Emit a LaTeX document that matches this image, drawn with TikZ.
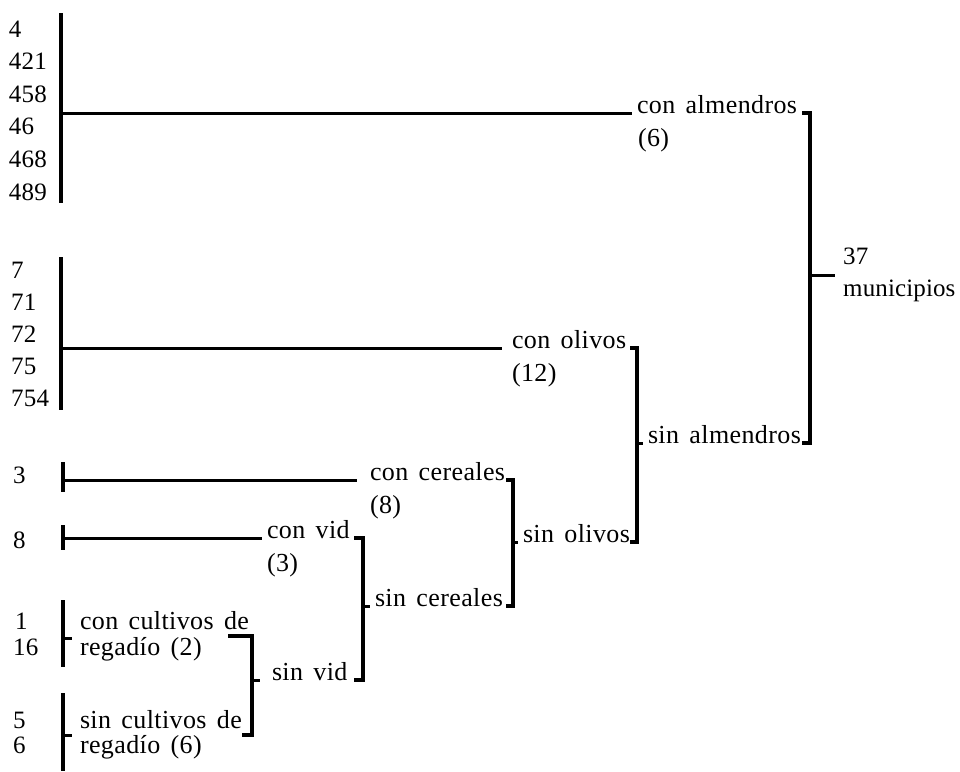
\documentclass[tikz,border=0pt]{standalone}
\usepackage{fontspec}
\setmainfont{Liberation Serif}[LetterSpace=1.5, WordSpace=1.5]
\newfontfamily\munfont{Liberation Serif}[LetterSpace=0.5]
\newfontfamily\numfont{Liberation Serif}[LetterSpace=1]
\usetikzlibrary{calc}
\tikzset{
  lbl/.style={anchor=base west, inner sep=0pt, outer sep=0pt},
  numl/.style={lbl, font=\fontsize{25}{33}\numfont},
  vbar/.style={line width=3.4pt, line join=miter},
  hln/.style={line width=3pt},
}
\begin{document}
\begin{tikzpicture}[x=1pt,y=-1pt,font=\fontsize{26}{33}\selectfont]
\useasboundingbox[fill=white] (0,0) rectangle (960,771);

% ---- leaf numbers
\foreach \t [count=\i] in {4,421,458,46,468,489}
  \node[numl] (a\i) at (9,{37+32.6*(\i-1)}) {\t};
\foreach \t [count=\i] in {7,71,72,75,754}
  \node[numl] (b\i) at (11,{278+32*(\i-1)}) {\t};
\node[numl] (n3) at (13,483) {3};
\node[numl] (n8) at (13,548) {8};
\node[numl] (n1) at (15,629) {1};
\node[numl] (n16) at (13,655) {16};
\node[numl] (n5) at (13,728) {5};
\node[numl] (n6) at (13,753) {6};

% ---- labels
\node[lbl] (conalm) at (637,113) {con almendros};
\node[lbl] (c6) at (638,146) {(6)};
\node[lbl] (conoli) at (512,348) {con olivos};
\node[lbl] (c12) at (512,381) {(12)};
\node[lbl] (sinalm) at (648,443) {sin almendros};
\node[lbl] (sinoli) at (523,542) {sin olivos};
\node[lbl] (concer) at (370,480) {con cereales};
\node[lbl] (c8) at (370,513) {(8)};
\node[lbl] (sincer) at (375,606) {sin cereales};
\node[lbl] (convid) at (267,538) {con vid};
\node[lbl] (c3) at (267,571) {(3)};
\node[lbl] (sinvid) at (272,680) {sin vid};
\node[lbl] (concult) at (80,629) {con cultivos de};
\node[lbl] (reg2) at (80,655) {regadío (2)};
\node[lbl] (sincult) at (80,728) {sin cultivos de};
\node[lbl] (reg6) at (80,753) {regadío (6)};
\node[anchor=west, inner sep=0pt, align=left, font=\fontsize{25}{32}\munfont] (mun) at (843,275) {37\\municipios};

% ---- left bars
\coordinate (At) at (61,13);   \coordinate (Ab) at (61,203);
\coordinate (Bt) at (61,257);  \coordinate (Bb) at (61,410);
\coordinate (Tt) at (63,462);  \coordinate (Tb) at (63,492);
\coordinate (Et) at (63,525);  \coordinate (Eb) at (63,550);
\coordinate (Ct) at (63,600);  \coordinate (Cb) at (63,667);  \coordinate (Cm) at (63,638);
\coordinate (Dt) at (63,693);  \coordinate (Db) at (63,771);  \coordinate (Dm) at (63,735);
\draw[vbar] (At) -- (Ab);
\draw[vbar] (Bt) -- (Bb);
\draw[vbar] (Tt) -- (Tb);
\draw[vbar] (Et) -- (Eb);
\draw[vbar] (Ct) -- (Cb);
\draw[vbar] (Dt) -- (Db);
\draw[hln] (At |- conalm.base) -- ($(conalm.base west)+(-5,0)$);
\draw[hln] (Bt |- conoli.base) -- ($(conoli.base west)+(-10,0)$);
\draw[hln] (Tt |- concer.base) -- ($(concer.base west)+(-13,0)$);
\draw[hln] (Et |- convid.base) -- ($(convid.base west)+(-5,0)$);
\draw[hln] (Cm) -- ($(Cm)+(9,0)$);
\draw[hln] (Dm) -- ($(Dm)+(9,0)$);

% ---- brackets
\coordinate (xalm) at (810,0);
\coordinate (xoli) at (637,0);
\coordinate (xcer) at (513,0);
\coordinate (xvid) at (363,0);
\coordinate (kt) at (252,636);
\coordinate (kb) at (252,735);

\draw[vbar] ($(xalm |- conalm.base)+(-8,0)$) -- (xalm |- conalm.base) -- (xalm |- sinalm.base) -- ($(xalm |- sinalm.base)+(-8,0)$);
\draw[hln] (xalm |- mun.west) -- ($(mun.west)+(-8,0)$);

\draw[vbar] ($(xoli |- conoli.base)+(-7,0)$) -- (xoli |- conoli.base) -- (xoli |- sinoli.base) -- ($(xoli |- sinoli.base)+(-7,0)$);
\draw[hln] (xoli |- sinalm.base) -- ($(sinalm.base west)+(-5,0)$);

\draw[vbar] ($(xcer |- concer.base)+(-7,0)$) -- (xcer |- concer.base) -- (xcer |- sincer.base) -- ($(xcer |- sincer.base)+(-7,0)$);
\draw[hln] (xcer |- sinoli.base) -- ($(sinoli.base west)+(-5,0)$);

\draw[vbar] ($(xvid |- convid.base)+(-9,0)$) -- (xvid |- convid.base) -- (xvid |- sinvid.base) -- ($(xvid |- sinvid.base)+(-9,0)$);
\draw[hln] (xvid |- sincer.base) -- ($(sincer.base west)+(-5,0)$);

\draw[vbar] ($(kt)+(-24,0)$) -- (kt) -- (kb) -- ($(kb)+(-10,0)$);
\draw[hln] (kt |- sinvid.base) -- ($(sinvid.base west)+(-12,0)$);
\end{tikzpicture}
\end{document}
